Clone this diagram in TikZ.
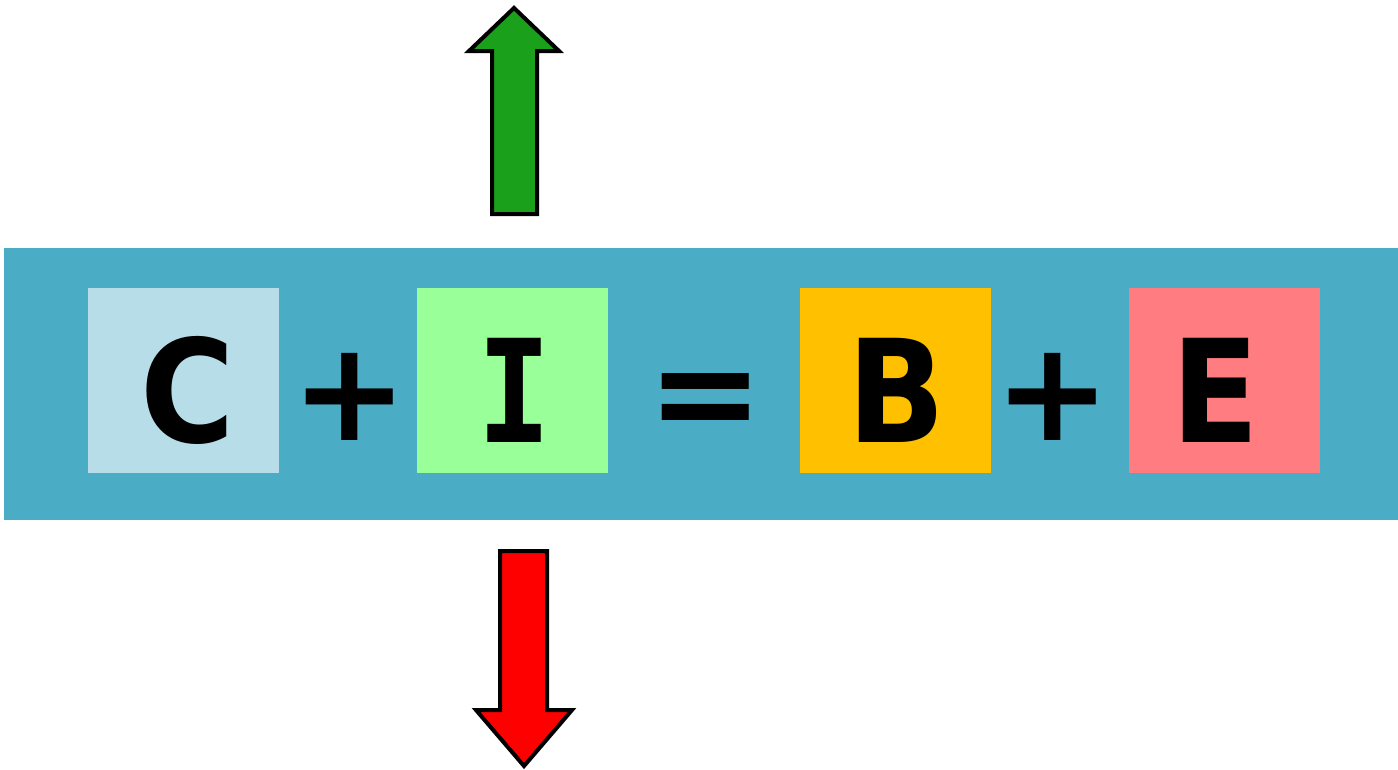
\documentclass[tikz,border=0pt]{standalone}
\usepackage{fontspec}
\newfontfamily\symfont{DejaVu Sans}[BoldFont={DejaVu Sans Bold}]
\newfontfamily\narrowfont{DejaVu Sans}[BoldFont={DejaVu Sans Bold}, BoldFeatures={FakeStretch=0.9}]
\newfontfamily\monofont{DejaVu Sans Mono}[BoldFont={DejaVu Sans Mono Bold}, BoldFeatures={FakeStretch=0.86}]
\definecolor{band}{RGB}{75,172,198}
\definecolor{cbox}{RGB}{183,221,232}
\definecolor{ibox}{RGB}{153,255,153}
\definecolor{bbox}{RGB}{255,192,0}
\definecolor{ebox}{RGB}{255,124,128}
\definecolor{upgreen}{RGB}{27,160,27}
\definecolor{downred}{RGB}{255,0,0}
\tikzset{
  termbox/.style={inner sep=0pt, minimum width=191pt, minimum height=185pt, anchor=north west},
  letter/.style={inner sep=0pt, anchor=base, font=\narrowfont\bfseries\fontsize{143}{143}\selectfont},
  operator/.style={inner sep=0pt, anchor=base, font=\symfont\bfseries\fontsize{139}{139}\selectfont},
  blockarrow/.style={draw=black, line width=4pt, line join=miter}
}
\begin{document}
\begin{tikzpicture}[x=1pt,y=-1pt]
\useasboundingbox (0,0) rectangle (1398,769);
% band holding the equation
\fill[band] (4,248) rectangle (1398,520);
% coloured term boxes
\node[termbox, fill=cbox] (cb) at (88,288) {};
\node[termbox, fill=ibox] (ib) at (417,288) {};
\node[termbox, fill=bbox] (bb) at (800,288) {};
\node[termbox, fill=ebox] (eb) at (1129,288) {};
% letters and operators
\node[letter] (c) at (188,442) {C};
\node[letter, font=\monofont\bfseries\fontsize{143}{143}\selectfont] (i) at (515,442) {I};
\node[letter] (b) at (897,442) {B};
\node[letter] (e) at (1215,442) {E};
\node[operator] (p1) at (350,440) {+};
\node[operator] (eq) at (706,440) {=};
\node[operator] (p2) at (1053,440) {+};
% rising arrow
\draw[blockarrow, fill=upgreen] (514,8) -- (559,51) -- (537,51) -- (537,214)
  -- (492,214) -- (492,51) -- (469,51) -- cycle;
% falling arrow
\draw[blockarrow, fill=downred] (500,551) -- (547,551) -- (547,710) -- (572,710)
  -- (524,766) -- (476,710) -- (500,710) -- cycle;
\end{tikzpicture}
\end{document}
